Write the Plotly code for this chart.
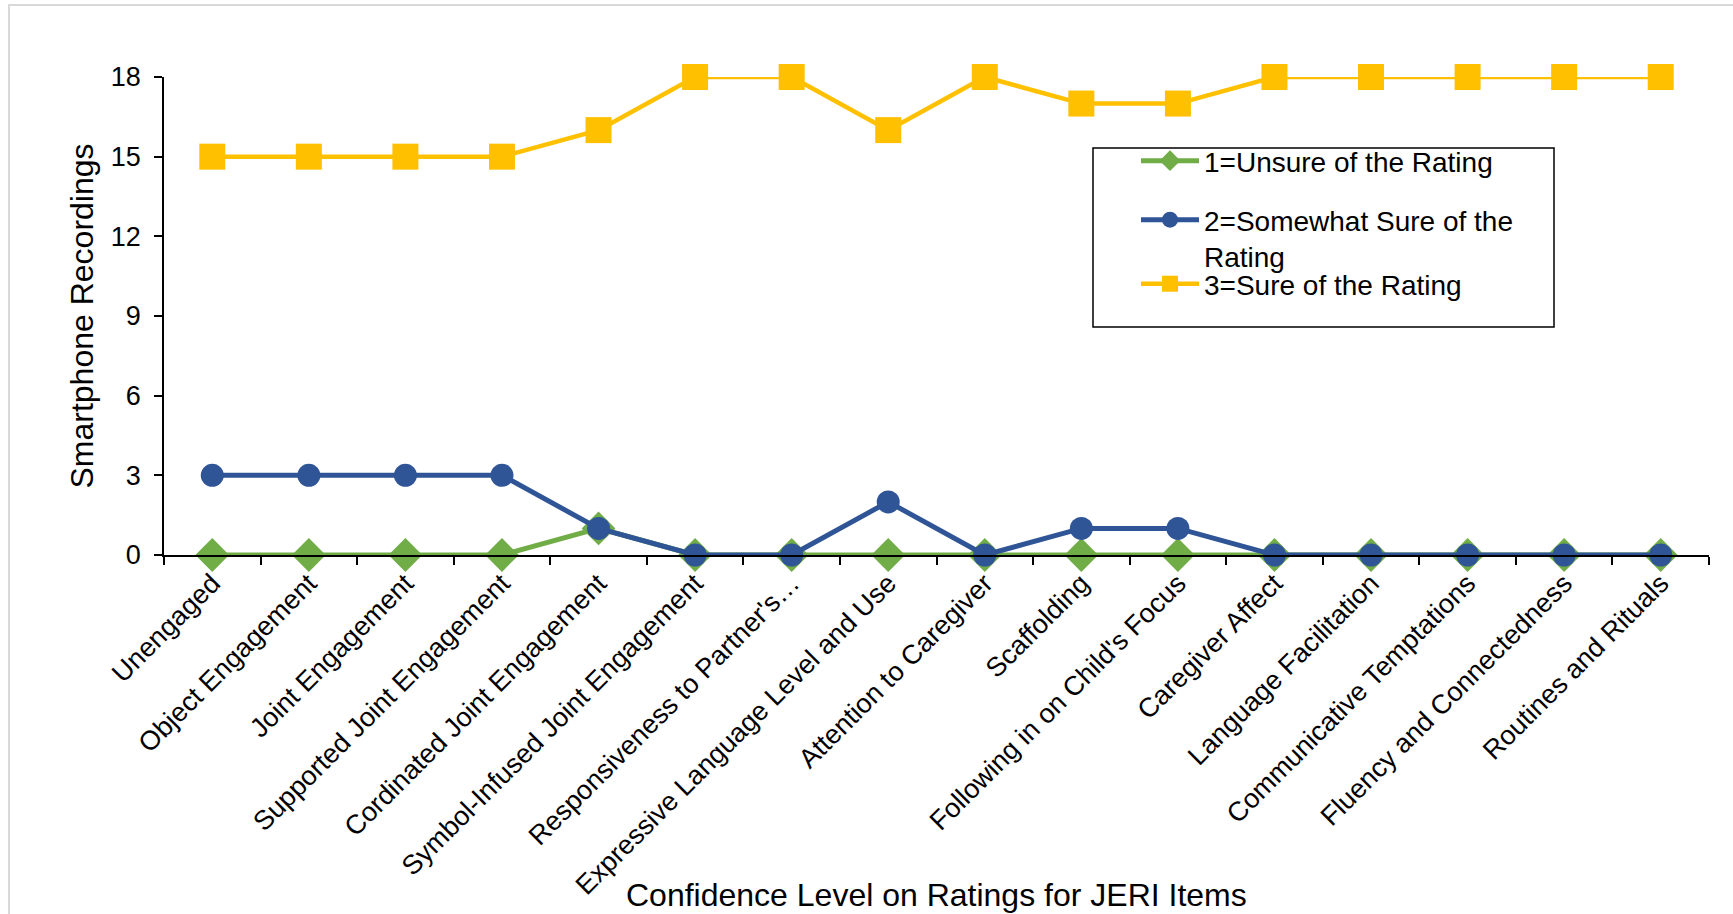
import plotly.graph_objects as go

# JERI items rated from smartphone recordings
items = [
    "Unengaged",
    "Object Engagement",
    "Joint Engagement",
    "Supported Joint Engagement",
    "Cordinated Joint Engagement",
    "Symbol-Infused Joint Engagement",
    "Responsiveness to Partner's…",
    "Expressive Language Level and Use",
    "Attention to Caregiver",
    "Scaffolding",
    "Following in on Child's Focus",
    "Caregiver Affect",
    "Language Facilitation",
    "Communicative Temptations",
    "Fluency and Connectedness",
    "Routines and Rituals",
]

# Number of recordings at each confidence level
unsure = [0, 0, 0, 0, 1, 0, 0, 0, 0, 0, 0, 0, 0, 0, 0, 0]
somewhat_sure = [3, 3, 3, 3, 1, 0, 0, 2, 0, 1, 1, 0, 0, 0, 0, 0]
sure = [15, 15, 15, 15, 16, 18, 18, 16, 18, 17, 17, 18, 18, 18, 18, 18]

y_ticks = [0, 3, 6, 9, 12, 15, 18]

W, H = 1733, 914
L, R, T, B = 164, 24, 77, 359
PW, PH = W - L - R, H - T - B

GREEN = "#70AD47"
BLUE = "#2F5597"
GOLD = "#FFC000"
FONT = "Arial, Liberation Sans, sans-serif"
TICK_FS = 27
LEG_FS = 28
TITLE_FS = 32


def px_x(px):
    return (px - L) / PW


def px_y(py):
    return (H - B - py) / PH


fig = go.Figure()
fig.add_trace(go.Scatter(
    x=items, y=unsure, name="1=Unsure of the Rating", mode="lines+markers",
    line=dict(color=GREEN, width=5),
    marker=dict(symbol="diamond", size=26, color=GREEN),
    cliponaxis=False, legend="legend",
))
fig.add_trace(go.Scatter(
    x=items, y=somewhat_sure, name="2=Somewhat Sure of the<br>Rating",
    mode="lines+markers",
    line=dict(color=BLUE, width=5),
    marker=dict(symbol="circle", size=23, color=BLUE),
    cliponaxis=False, legend="legend2",
))
fig.add_trace(go.Scatter(
    x=items, y=sure, name="3=Sure of the Rating", mode="lines+markers",
    line=dict(color=GOLD, width=4.5),
    marker=dict(symbol="square", size=26, color=GOLD),
    cliponaxis=False, legend="legend3",
))

legend_common = dict(
    xanchor="left", yanchor="top", bgcolor="rgba(0,0,0,0)", borderwidth=0,
    font=dict(family=FONT, size=LEG_FS, color="black"), itemwidth=58,
    valign="top", tracegroupgap=0,
)

fig.update_layout(
    width=W, height=H,
    margin=dict(l=L, r=R, t=T, b=B, autoexpand=False),
    paper_bgcolor="white", plot_bgcolor="white",
    font=dict(family=FONT, size=TICK_FS, color="black"),
    showlegend=True,
    legend=dict(x=px_x(1136), y=px_y(136), **legend_common),
    legend2=dict(x=px_x(1136), y=px_y(195), **legend_common),
    legend3=dict(x=px_x(1136), y=px_y(259), **legend_common),
    xaxis=dict(
        type="category", range=[-0.5, len(items) - 0.5],
        showline=True, linecolor="black", linewidth=1.5,
        ticks="outside", tickson="boundaries", ticklen=8, tickcolor="black",
        tickwidth=1.5, tickangle=-45, showgrid=False, zeroline=False,
        tickfont=dict(family=FONT, size=TICK_FS, color="black"),
    ),
    yaxis=dict(
        range=[0, 18], tickvals=y_ticks,
        showline=True, linecolor="black", linewidth=1.5,
        ticks="outside", ticklen=8, tickcolor="black", tickwidth=1.5,
        showgrid=False, zeroline=False, ticklabelstandoff=8,
        tickfont=dict(family=FONT, size=TICK_FS, color="black"),
        title=dict(text="Smartphone Recordings", standoff=8,
                   font=dict(family=FONT, size=TITLE_FS, color="black")),
    ),
    annotations=[dict(
        text="Confidence Level on Ratings for JERI Items",
        xref="paper", yref="paper", x=0.5, y=px_y(895),
        xanchor="center", yanchor="middle", showarrow=False,
        font=dict(family=FONT, size=TITLE_FS, color="black"),
    )],
    shapes=[
        # legend frame
        dict(type="rect", xref="paper", yref="paper",
             x0=px_x(1093), x1=px_x(1554), y0=px_y(148), y1=px_y(327),
             line=dict(color="black", width=1.5), fillcolor="rgba(0,0,0,0)",
             layer="below"),
        # chart-area border
        dict(type="rect", xref="paper", yref="paper",
             x0=px_x(9), x1=px_x(1760), y0=px_y(5), y1=px_y(940),
             line=dict(color="#D9D9D9", width=2), fillcolor="rgba(0,0,0,0)",
             layer="below"),
    ],
)

fig.write_html("out.html")
